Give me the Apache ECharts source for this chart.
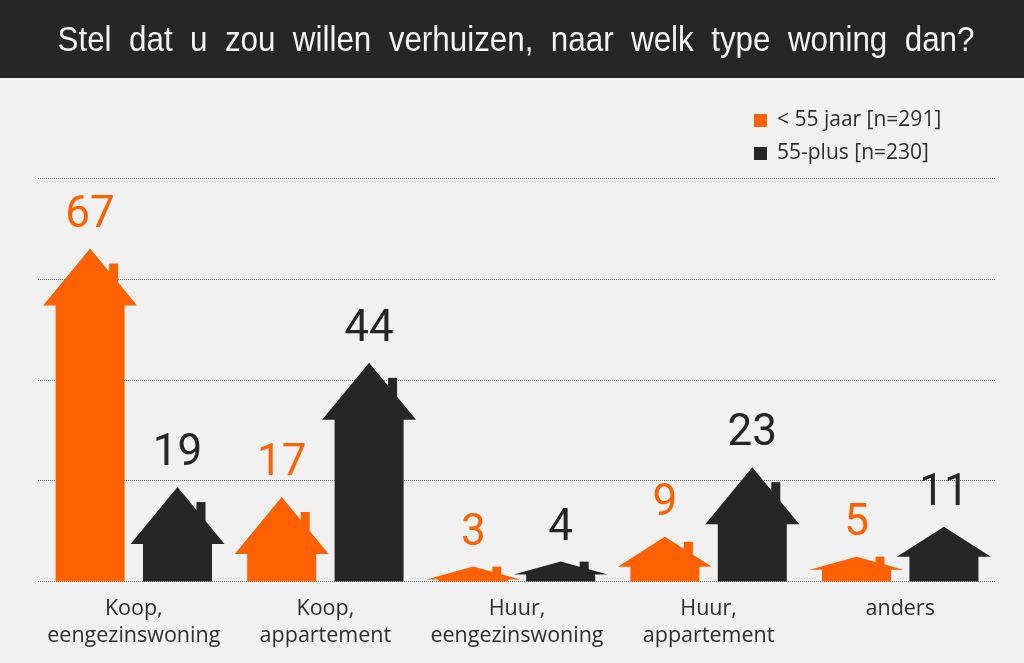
<!DOCTYPE html>
<html>
<head>
<meta charset="utf-8">
<style>html,body{margin:0;padding:0;background:#f1f1f1}#c{width:1024px;height:663px}</style>
<script src="https://cdn.jsdelivr.net/npm/echarts@6/dist/echarts.min.js"></script>
</head>
<body>
<div id="c"></div>
<script>
const titleText = 'Stel  dat  u  zou  willen  verhuizen,  naar  welk  type  woning  dan?';
const categories = ['Koop,\neengezinswoning', 'Koop,\nappartement', 'Huur,\neengezinswoning', 'Huur,\nappartement', 'anders'];
const under55Name = '< 55 jaar [n=291]';
const plus55Name = '55-plus [n=230]';
const under55 = [67, 17, 3, 9, 5];
const plus55 = [19, 44, 4, 23, 11];
const gridTicks = [0, 20, 40, 60, 80];

const ORANGE = '#ff6000', DARK = '#262626';
const chart = echarts.init(document.getElementById('c'), null, {renderer: 'canvas'});

function house(color, side) {
  return function (params, api) {
    const cat = api.value(0), v = api.value(1);
    const base = api.coord([cat, 0]);
    const top = api.coord([cat, v]);
    const cx = base[0] + side * 43.7;
    const by = base[1], ty = top[1];
    const tier = v >= 17 ? [57, 42] : v >= 9 ? [30, 25] : [13, 13];
    const roof = tier[0], ey = ty + roof;
    const children = [
      {type: 'polygon', shape: {points: [[cx - 47, ey], [cx, ty], [cx + 47, ey], [cx + 34.5, ey], [cx + 34.5, by], [cx - 34.5, by], [cx - 34.5, ey]]}, style: {fill: color}},
      {type: 'text', style: {x: cx, y: ty - 33, text: String(v), fill: color, font: '400 44px Roboto, sans-serif', textAlign: 'center', textVerticalAlign: 'middle'}}
    ];
    if (v !== 11) {
      children.unshift({type: 'rect', shape: {x: cx + 19, y: ey - tier[1], width: 9, height: tier[1]}, style: {fill: color}});
    }
    return {type: 'group', children: children};
  };
}

chart.setOption({
  animation: false,
  backgroundColor: '#f1f1f1',
  textStyle: {fontFamily: '"Open Sans", sans-serif'},
  graphic: [
    {type: 'rect', z: 0, shape: {x: 0, y: 0, width: 1024, height: 78}, style: {fill: DARK}},
    {type: 'text', z: 1, x: 516, y: 41, scaleX: 0.896, style: {x: 0, y: 0, text: titleText, fill: '#f4f4f4', font: '35px "Liberation Sans", sans-serif', textAlign: 'center', textVerticalAlign: 'middle'}}
  ],
  legend: {
    orient: 'vertical', left: 749, top: 105, itemWidth: 13, itemHeight: 13, itemGap: 12, icon: 'rect',
    textStyle: {color: '#2e2e2e', fontSize: 21, fontFamily: '"Open Sans", sans-serif', padding: [0, 0, 0, 5]},
    data: [under55Name, plus55Name]
  },
  grid: {left: 38, right: 28, top: 178, bottom: 81.5},
  xAxis: {
    type: 'category', data: categories,
    axisLine: {show: false}, axisTick: {show: false},
    axisLabel: {color: '#2e2e2e', fontSize: 21.5, lineHeight: 27, margin: 14, interval: 0, fontFamily: '"Open Sans", sans-serif'}
  },
  yAxis: [
    {type: 'value', min: gridTicks[0], max: gridTicks[gridTicks.length - 1], interval: 20,
     axisLine: {show: false}, axisTick: {show: false}, axisLabel: {show: false},
     splitLine: {show: true, lineStyle: {color: '#777', width: 1, type: 'dotted'}}},
    {type: 'value', min: 0, max: 81.2, show: false, splitLine: {show: false}}
  ],
  series: [
    {name: under55Name, type: 'custom', yAxisIndex: 1, itemStyle: {color: ORANGE}, encode: {x: 0, y: 1},
     renderItem: house(ORANGE, -1), data: under55.map((v, i) => [i, v])},
    {name: plus55Name, type: 'custom', yAxisIndex: 1, itemStyle: {color: DARK}, encode: {x: 0, y: 1},
     renderItem: house(DARK, 1), data: plus55.map((v, i) => [i, v])}
  ]
});
</script>
</body>
</html>
